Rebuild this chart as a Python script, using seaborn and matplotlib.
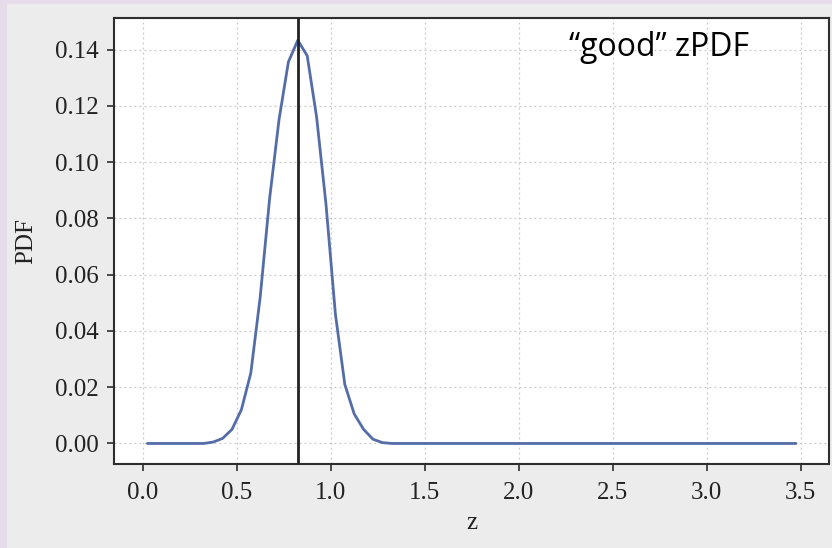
import numpy as np
import pandas as pd
import matplotlib
matplotlib.use("Agg")
import matplotlib.pyplot as plt
from matplotlib.patches import Rectangle
import seaborn as sns

# Redshift grid: centres of 0.05-wide bins between 0 and 3.5
z_grid = np.round(np.arange(0.025, 3.5, 0.05), 3)

# Probability per bin
pdf_low_tail = [0.0] * 7                       # z = 0.025 ... 0.325
pdf_peak = [0.0005, 0.0018, 0.0050, 0.0120, 0.0250, 0.0520, 0.0870,
            0.1150, 0.1356, 0.1433, 0.1378, 0.1160, 0.0850, 0.0460,
            0.0210, 0.0105, 0.0050, 0.0015, 0.0003]   # z = 0.375 ... 1.275
pdf_high_tail = [0.0] * 44                     # z = 1.325 ... 3.475
pdf_values = pdf_low_tail + pdf_peak + pdf_high_tail

z_best = 0.825
x_ticks = [0.0, 0.5, 1.0, 1.5, 2.0, 2.5, 3.0, 3.5]
y_ticks = [0.00, 0.02, 0.04, 0.06, 0.08, 0.10, 0.12, 0.14]
annotation = "\u201cgood\u201d zPDF"

df = pd.DataFrame({"z": z_grid, "PDF": pdf_values})

sns.set_theme(style="white")
plt.rcParams["font.family"] = ["Liberation Serif", "DejaVu Serif"]
plt.rcParams["mathtext.fontset"] = "stix"

fig = plt.figure(figsize=(8.32, 5.48), dpi=100)
fig.patch.set_facecolor("#e7dce9")
# grey panel behind the axes
fig.patches.append(Rectangle((7 / 832, 0), 1, 1 - 4 / 548, transform=fig.transFigure,
                             facecolor="#ececec", edgecolor="none", zorder=-5))

ax = fig.add_axes([114.3 / 832, (548 - 464) / 548, (829.3 - 114.3) / 832, (464 - 18.3) / 548])
ax.set_zorder(5)
ax.set_facecolor("white")

sns.lineplot(data=df, x="z", y="PDF", ax=ax, color="#546ca8", linewidth=2.0, zorder=3)
ax.axvline(z_best, color="#222222", linewidth=2.0, zorder=4)

ax.set_xlim(-0.151, 3.652)
ax.set_ylim(-0.0073, 0.1511)
ax.set_xticks(x_ticks)
ax.set_yticks(y_ticks)
ax.set_xticklabels([f"{t:.1f}" for t in x_ticks])
ax.set_yticklabels([f"{t:.2f}" for t in y_ticks])

ax.grid(True, linestyle=(0, (1.5, 2.5)), color="#c8c8c8", linewidth=0.9, zorder=0)
ax.set_axisbelow(True)

for s in ax.spines.values():
    s.set_color("#2e2e2e")
    s.set_linewidth(1.5)

ax.tick_params(axis="both", which="major", direction="out", length=5, width=1.2,
               color="#2e2e2e", labelsize=18, labelcolor="#222222", pad=6,
               bottom=True, left=True)
ax.tick_params(axis="x", pad=8)

ax.set_xlabel("z", fontsize=18, color="#222222", labelpad=6)
ax.set_ylabel("PDF", fontsize=18, color="#222222", labelpad=13)

ax.text(0.636, 0.935, annotation, transform=ax.transAxes, fontsize=23,
        family=["Open Sans", "DejaVu Sans"], color="black", ha="left", va="center")

fig.savefig("out.png", dpi=100, facecolor=fig.get_facecolor())
